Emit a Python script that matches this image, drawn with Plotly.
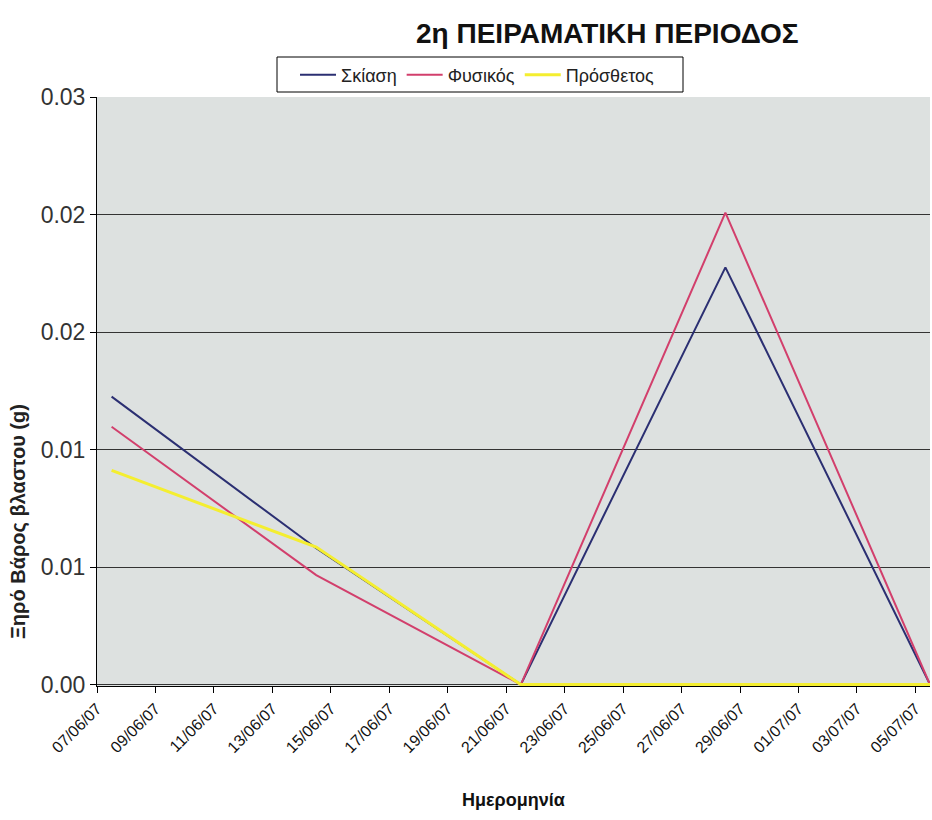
import pandas as pd
import plotly.graph_objects as go

# ---- data ----
dates = ["2007-06-07", "2007-06-14", "2007-06-21", "2007-06-28", "2007-07-05"]
skiasi = [0.01225, 0.0058, 0.0, 0.01775, 0.0]
fysikos = [0.01097, 0.00466, 0.0, 0.02008, 0.0]
prosthetos = [0.00911, 0.00585, 0.0, 0.0, 0.0]
series_names = ["Σκίαση", "Φυσικός", "Πρόσθετος"]
y_tickvals = [0.0, 0.005, 0.01, 0.015, 0.02, 0.025]
y_ticktext = ["0.00", "0.01", "0.01", "0.02", "0.02", "0.03"]
x_tick_dates = pd.date_range("2007-06-07", "2007-07-05", freq="2D")

# points sit in the middle of each day slot (Excel date axis, between tick marks)
x = pd.to_datetime(dates) + pd.Timedelta(hours=12)

colors = ["#2b2f72", "#d23f6c", "#f4ee30"]
widths = [2, 2, 3]
FONT = "Liberation Sans, Arial, sans-serif"

L, R, T, B = 97, 2, 97, 134
PW, PH = 932 - L - R, 820 - T - B


def px_x(p):
    return (p - L) / PW


def px_y(p):
    return (820 - B - p) / PH


fig = go.Figure()
for name, vals, c, w in zip(series_names, [skiasi, fysikos, prosthetos], colors, widths):
    fig.add_trace(go.Scatter(x=x, y=vals, mode="lines", name=name,
                             line=dict(color=c, width=w)))

fig.update_layout(
    width=932, height=820,
    margin=dict(l=L, r=R, t=T, b=B),
    paper_bgcolor="white",
    plot_bgcolor="#dde1e0",
    font=dict(family=FONT, color="#222"),
    showlegend=True,
    legend=dict(orientation="h", x=px_x(295), y=px_y(75),
                xanchor="left", yanchor="middle",
                bgcolor="rgba(0,0,0,0)", borderwidth=0,
                font=dict(size=18, color="#222"), itemwidth=36,
                traceorder="normal"),
)

# legend frame
fig.add_shape(type="rect", xref="paper", yref="paper",
              x0=px_x(277), x1=px_x(683), y0=px_y(92), y1=px_y(57),
              line=dict(color="black", width=1), fillcolor="white", layer="above")

fig.update_xaxes(
    range=[pd.Timestamp("2007-06-07"), pd.Timestamp("2007-07-05 12:00")],
    tickvals=x_tick_dates,
    ticktext=[d.strftime("%d/%m/%y") for d in x_tick_dates],
    tickangle=-45,
    tickfont=dict(size=16, color="#111"),
    ticks="outside", ticklen=6, tickcolor="black",
    showline=True, linecolor="black", linewidth=1,
    showgrid=False, zeroline=False, layer="below traces",
)
fig.update_yaxes(
    range=[-0.00006, 0.025],
    tickvals=y_tickvals, ticktext=y_ticktext,
    tickfont=dict(size=23, color="#333"),
    ticks="outside", ticklen=6, tickcolor="black",
    showline=True, linecolor="black", linewidth=1,
    showgrid=True, gridcolor="#333", gridwidth=1,
    zeroline=False, layer="below traces",
)

fig.add_annotation(text="<b>2η ΠΕΙΡΑΜΑΤΙΚΗ ΠΕΡΙΟΔΟΣ</b>", xref="paper", yref="paper",
                   x=px_x(607), y=px_y(33), xanchor="center", yanchor="middle",
                   showarrow=False,
                   font=dict(size=28, color="#111", family=FONT, weight="bold"))
fig.add_annotation(text="<b>Ξηρό Βάρος βλαστου (g)</b>", xref="paper", yref="paper",
                   x=px_x(18), y=px_y(522), xanchor="center", yanchor="middle",
                   showarrow=False, textangle=-90,
                   font=dict(size=20, color="#222", family=FONT, weight="bold"))
fig.add_annotation(text="<b>Ημερομηνία</b>", xref="paper", yref="paper",
                   x=px_x(513), y=px_y(800), xanchor="center", yanchor="middle",
                   showarrow=False,
                   font=dict(size=18, color="#111", family=FONT, weight="bold"))

fig.write_html("out.html")
